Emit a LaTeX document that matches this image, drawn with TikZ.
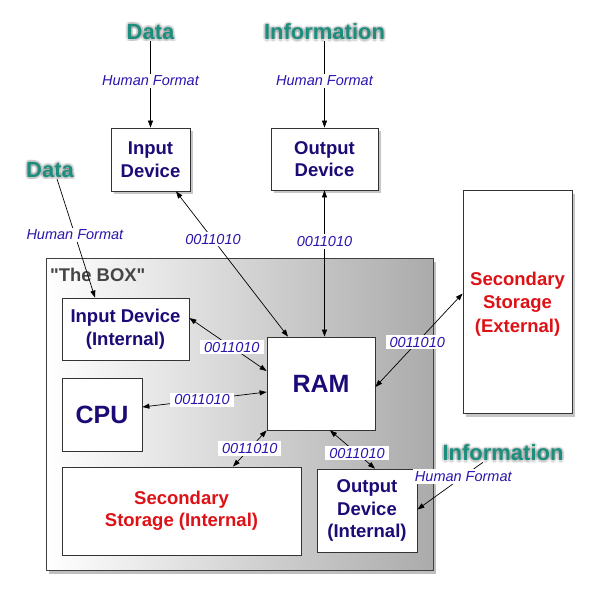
\documentclass[tikz,border=0pt]{standalone}
\usepackage{fontspec}
\setmainfont{Liberation Sans}
\newfontfamily\plainsans{Liberation Sans}
\usetikzlibrary{arrows.meta,shadows}
\definecolor{navy}{RGB}{28,10,118}
\definecolor{lblue}{RGB}{42,22,175}
\definecolor{tealc}{RGB}{28,142,126}
\definecolor{redc}{RGB}{222,18,22}
\definecolor{boxgray}{RGB}{70,70,70}
\begin{document}
\begin{tikzpicture}[x=1pt,y=-1pt,
  devbox/.style={draw=black!80, fill=white, line width=0.8pt, align=center,
    font=\bfseries\fontsize{18.5}{22.5}\selectfont, text=navy, inner sep=0pt},
  shad/.style={drop shadow={shadow xshift=2.5pt, shadow yshift=-3pt, opacity=0.45}},
  redtxt/.style={text=redc},
  bigtxt/.style={font=\bfseries\fontsize{25}{28}\selectfont},
  tealtxt/.style={text=tealc, font=\bfseries\fontsize{22}{26}\selectfont, inner sep=1pt},
  glowtxt/.style={text=black, opacity=0.08, font=\bfseries\fontsize{22}{26}\selectfont, inner sep=1pt},
  lbl/.style={font=\itshape\fontsize{14.5}{17}\selectfont, text=lblue, fill=white, inner xsep=4pt, inner ysep=2pt},
  hlbl/.style={font=\itshape\fontsize{14.5}{17}\selectfont, text=lblue, fill=white, inner xsep=2pt, inner ysep=2pt},
  arr/.style={-{Triangle[length=7pt,width=5pt]}, line width=0.7pt},
  barr/.style={{Triangle[length=7pt,width=5pt]}-{Triangle[length=7pt,width=5pt]}, line width=0.7pt}
]
\useasboundingbox (0,0) rectangle (593,595);

% The BOX
\node[draw=black!75, line width=0.9pt, left color=white, right color=black!33,
  minimum width=387pt, minimum height=312pt, inner sep=0pt,
  drop shadow={shadow xshift=3pt, shadow yshift=-3.5pt, opacity=0.5}] (thebox) at (239.5,414) {};
\node[anchor=west, text=boxgray, font=\plainsans\bfseries\fontsize{18.4}{22}\selectfont, inner sep=0pt] (boxlabel) at (50,275) {"The BOX"};

% devices outside
\node[devbox, shad, minimum width=79pt, minimum height=63pt] (indev) at (150.5,159.5) {Input\\Device};
\node[devbox, shad, minimum width=107pt, minimum height=62pt] (outdev) at (324.5,159) {Output\\Device};
\node[devbox, shad, minimum width=109pt, minimum height=223pt] (ssext) at (517.5,302) {};
\node[text=redc, align=center, font=\bfseries\fontsize{18.5}{23.5}\selectfont, inner sep=0pt] (ssexttext) at (517.5,304) {Secondary\\Storage\\(External)};

% devices inside
\node[devbox, minimum width=127pt, minimum height=62pt] (inint) at (125.5,329) {Input Device\\(Internal)};
\node[devbox, bigtxt, minimum width=80pt, minimum height=73pt] (cpu) at (102,414.5) {CPU};
\node[devbox, bigtxt, minimum width=108pt, minimum height=93pt] (ram) at (321,383.5) {RAM};
\node[devbox, redtxt, minimum width=239pt, minimum height=88pt] (ssint) at (181.5,511) {Secondary\\Storage (Internal)};
\node[devbox, minimum width=100pt, minimum height=83pt] (outint) at (367,510.5) {Output\\Device\\(Internal)};

% teal labels with glow
\foreach \a in {0,45,...,315}{
  \node[glowtxt] (g1-\a) at ([shift={(\a:2.2pt)}]150.5,32) {Data};
  \node[glowtxt] (g2-\a) at ([shift={(\a:2.2pt)}]324.5,32) {Information};
  \node[glowtxt] (g3-\a) at ([shift={(\a:2.2pt)}]50,170) {Data};
  \node[glowtxt] (g4-\a) at ([shift={(\a:2.2pt)}]503,453) {Information};
}
\node[tealtxt] (data1) at (150.5,32) {Data};
\node[tealtxt] (info1) at (324.5,32) {Information};
\node[tealtxt] (data2) at (50,170) {Data};
\node[tealtxt] (info2) at (503,453) {Information};

% human format arrows
\draw[arr] (data1.south) -- node[hlbl, pos=0.46] (hf1) {Human Format} (indev.north);
\draw[arr] (info1.south) -- node[hlbl, pos=0.46] (hf2) {Human Format} (outdev.north);
\draw[arr] ([xshift=7pt]data2.south) -- node[hlbl, pos=0.47] (hf3) {Human Format} ([xshift=-30.5pt]inint.north);
\draw[arr] ([xshift=-20pt]info2.south) -- node[hlbl, pos=0.3] (hf4) {Human Format} ([yshift=1pt]outint.east);

% binary arrows
\draw[barr] ([xshift=25.5pt]indev.south) -- node[lbl, pos=0.33] (b1) {0011010} ([xshift=-33pt]ram.north);
\draw[barr] (outdev.south) -- node[lbl, pos=0.35] (b2) {0011010} (outdev.south |- ram.north);
\draw[barr] ([yshift=11pt]inint.east) -- node[lbl, pos=0.55] (b3) {0011010} ([yshift=12.5pt]ram.west);
\draw[barr] ([yshift=7.5pt]cpu.east) -- node[lbl, pos=0.48] (b4) {0011010} ([yshift=-8.5pt]ram.west);
\draw[barr] (ram.south west) -- node[lbl, pos=0.5] (b5) {0011010} ([xshift=51.5pt]ssint.north);
\draw[barr] ([xshift=9pt]ram.south) -- node[lbl, pos=0.6] (b6) {0011010} ([xshift=8pt]outint.north);
\draw[barr] ([yshift=-3.5pt]ram.east) -- node[lbl, pos=0.48] (b7) {0011010} ([yshift=8.5pt]ssext.west);
\end{tikzpicture}
\end{document}
